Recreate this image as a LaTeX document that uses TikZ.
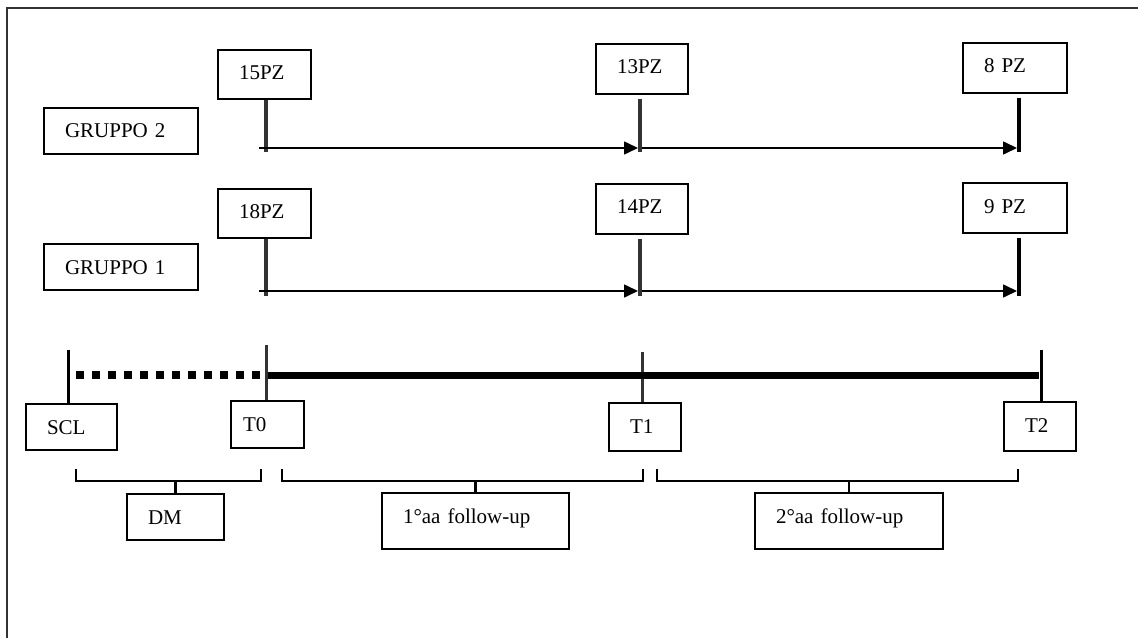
\documentclass[tikz,border=0pt]{standalone}
\usepackage{fontspec}
\setmainfont{Liberation Serif}
\usetikzlibrary{arrows.meta}
\newdimen\upx \upx=0.75pt
\begin{document}
\begin{tikzpicture}[x=0.75pt,y=-0.75pt,
  box/.style={draw, line width=2\upx, anchor=north west, inner xsep=21\upx, inner ysep=0pt,
    align=left, text height=30\upx, font=\fontsize{15.75}{18}\selectfont},
  arr/.style={line width=1.6\upx, -{Triangle[length=10.5pt,width=9.75pt]}},
  gtick/.style={line width=3.5\upx, draw=black!80},
  ttick/.style={line width=3\upx},
  thickline/.style={line width=7\upx},
  dotline/.style={line width=7.5\upx, dash pattern=on 6pt off 6pt},
  brace/.style={line width=2.5\upx}]
\useasboundingbox (0,0) rectangle (1138,638);
% frame (left and top edges only)
\draw[line width=1.5\upx, draw=black!80] (7,650) -- (7,8) -- (1145,8);

% group boxes
\node[box, text width=112\upx, text depth=16\upx] (g2) at (43,107) {GRUPPO 2};
\node[box, text width=112\upx, text depth=16\upx] (g1) at (43,243) {GRUPPO 1};

% patient boxes, group 2
\node[box, text width=51\upx, text depth=19\upx] (p15) at (217,49) {15PZ};
\node[box, text width=50\upx, text depth=20\upx] (p13) at (595,43) {13PZ};
\node[box, text width=62\upx, text depth=20\upx] (p8) at (962,42) {8 PZ};
% patient boxes, group 1
\node[box, text width=51\upx, text depth=19\upx] (p18) at (217,188) {18PZ};
\node[box, text width=50\upx, text depth=20\upx] (p14) at (595,183) {14PZ};
\node[box, text width=62\upx, text depth=20\upx] (p9) at (962,182) {9 PZ};

% time boxes
\node[box, text width=49\upx, text depth=16\upx] (scl) at (25,403) {SCL};
\node[box, inner xsep=12\upx, text width=49\upx, text depth=17\upx] (t0) at (230,400) {T0};
\node[box, text width=30\upx, text depth=18\upx] (t1) at (608,402) {T1};
\node[box, text width=30\upx, text depth=19\upx] (t2) at (1003,401) {T2};

% period boxes
\node[box, text width=55\upx, text depth=16\upx] (dm) at (126,493) {DM};
\node[box, text width=145\upx, text depth=26\upx] (f1) at (381,492) {1°aa follow-up};
\node[box, text width=146\upx, text depth=26\upx] (f2) at (754,492) {2°aa follow-up};

% group 2 row
\coordinate (a15) at (266,152);
\coordinate (a13) at (640,152);
\coordinate (a8) at (1019,152);
\draw[gtick] (a15 |- p15.south) -- (a15);
\draw[gtick, line width=4.5\upx] (a13 |- p13.south) ++(0,4) -- (a13);
\draw[gtick, draw=black] (a8 |- p8.south) ++(0,4) -- (a8);
\coordinate (s2) at (259,148);
\coordinate (e2a) at (638,148);
\coordinate (s2b) at (642,148);
\coordinate (e2b) at (1017,148);
\draw[arr] (s2) -- (e2a);
\draw[arr] (s2b) -- (e2b);

% group 1 row
\coordinate (a18) at (266,296);
\coordinate (a14) at (640,296);
\coordinate (a9) at (1019,296);
\draw[gtick] (a18 |- p18.south) -- (a18);
\draw[gtick, line width=4.5\upx] (a14 |- p14.south) ++(0,4) -- (a14);
\draw[gtick, draw=black] (a9 |- p9.south) ++(0,4) -- (a9);
\coordinate (s1) at (259,291);
\coordinate (e1a) at (638,291);
\coordinate (s1b) at (642,291);
\coordinate (e1b) at (1017,291);
\draw[arr] (s1) -- (e1a);
\draw[arr] (s1b) -- (e1b);

% timeline
\coordinate (k0) at (68,350);
\coordinate (k1) at (266,345);
\coordinate (k2) at (642,352);
\coordinate (k3) at (1041,350);
\draw[ttick] (k0) -- (k0 |- scl.north);
\draw[ttick, draw=black!80] (k1) -- (k1 |- t0.north);
\draw[ttick, draw=black!80] (k2) -- (k2 |- t1.north);
\draw[ttick] (k3) -- (k3 |- t2.north);
\coordinate (d0) at (76,375);
\coordinate (d1) at (261,375);
\coordinate (h0) at (268,375);
\coordinate (h1) at (1039,375);
\draw[dotline] (d0) -- (d1);
\draw[thickline] (h0) -- (h1);

% brackets
\coordinate (b1) at (174,481);
\coordinate (b2) at (473,481);
\coordinate (b3) at (848,481);
\draw[brace] (76,469) -- (76,481) -- (261,481) -- (261,469);
\draw[brace] (dm.north |- b1) -- (dm.north);
\draw[brace] (282,469) -- (282,481) -- (643,481) -- (643,469);
\draw[brace] (f1.north |- b2) -- (f1.north);
\draw[brace] (657,469) -- (657,481) -- (1018,481) -- (1018,469);
\draw[brace] (f2.north |- b3) -- (f2.north);
\end{tikzpicture}
\end{document}
